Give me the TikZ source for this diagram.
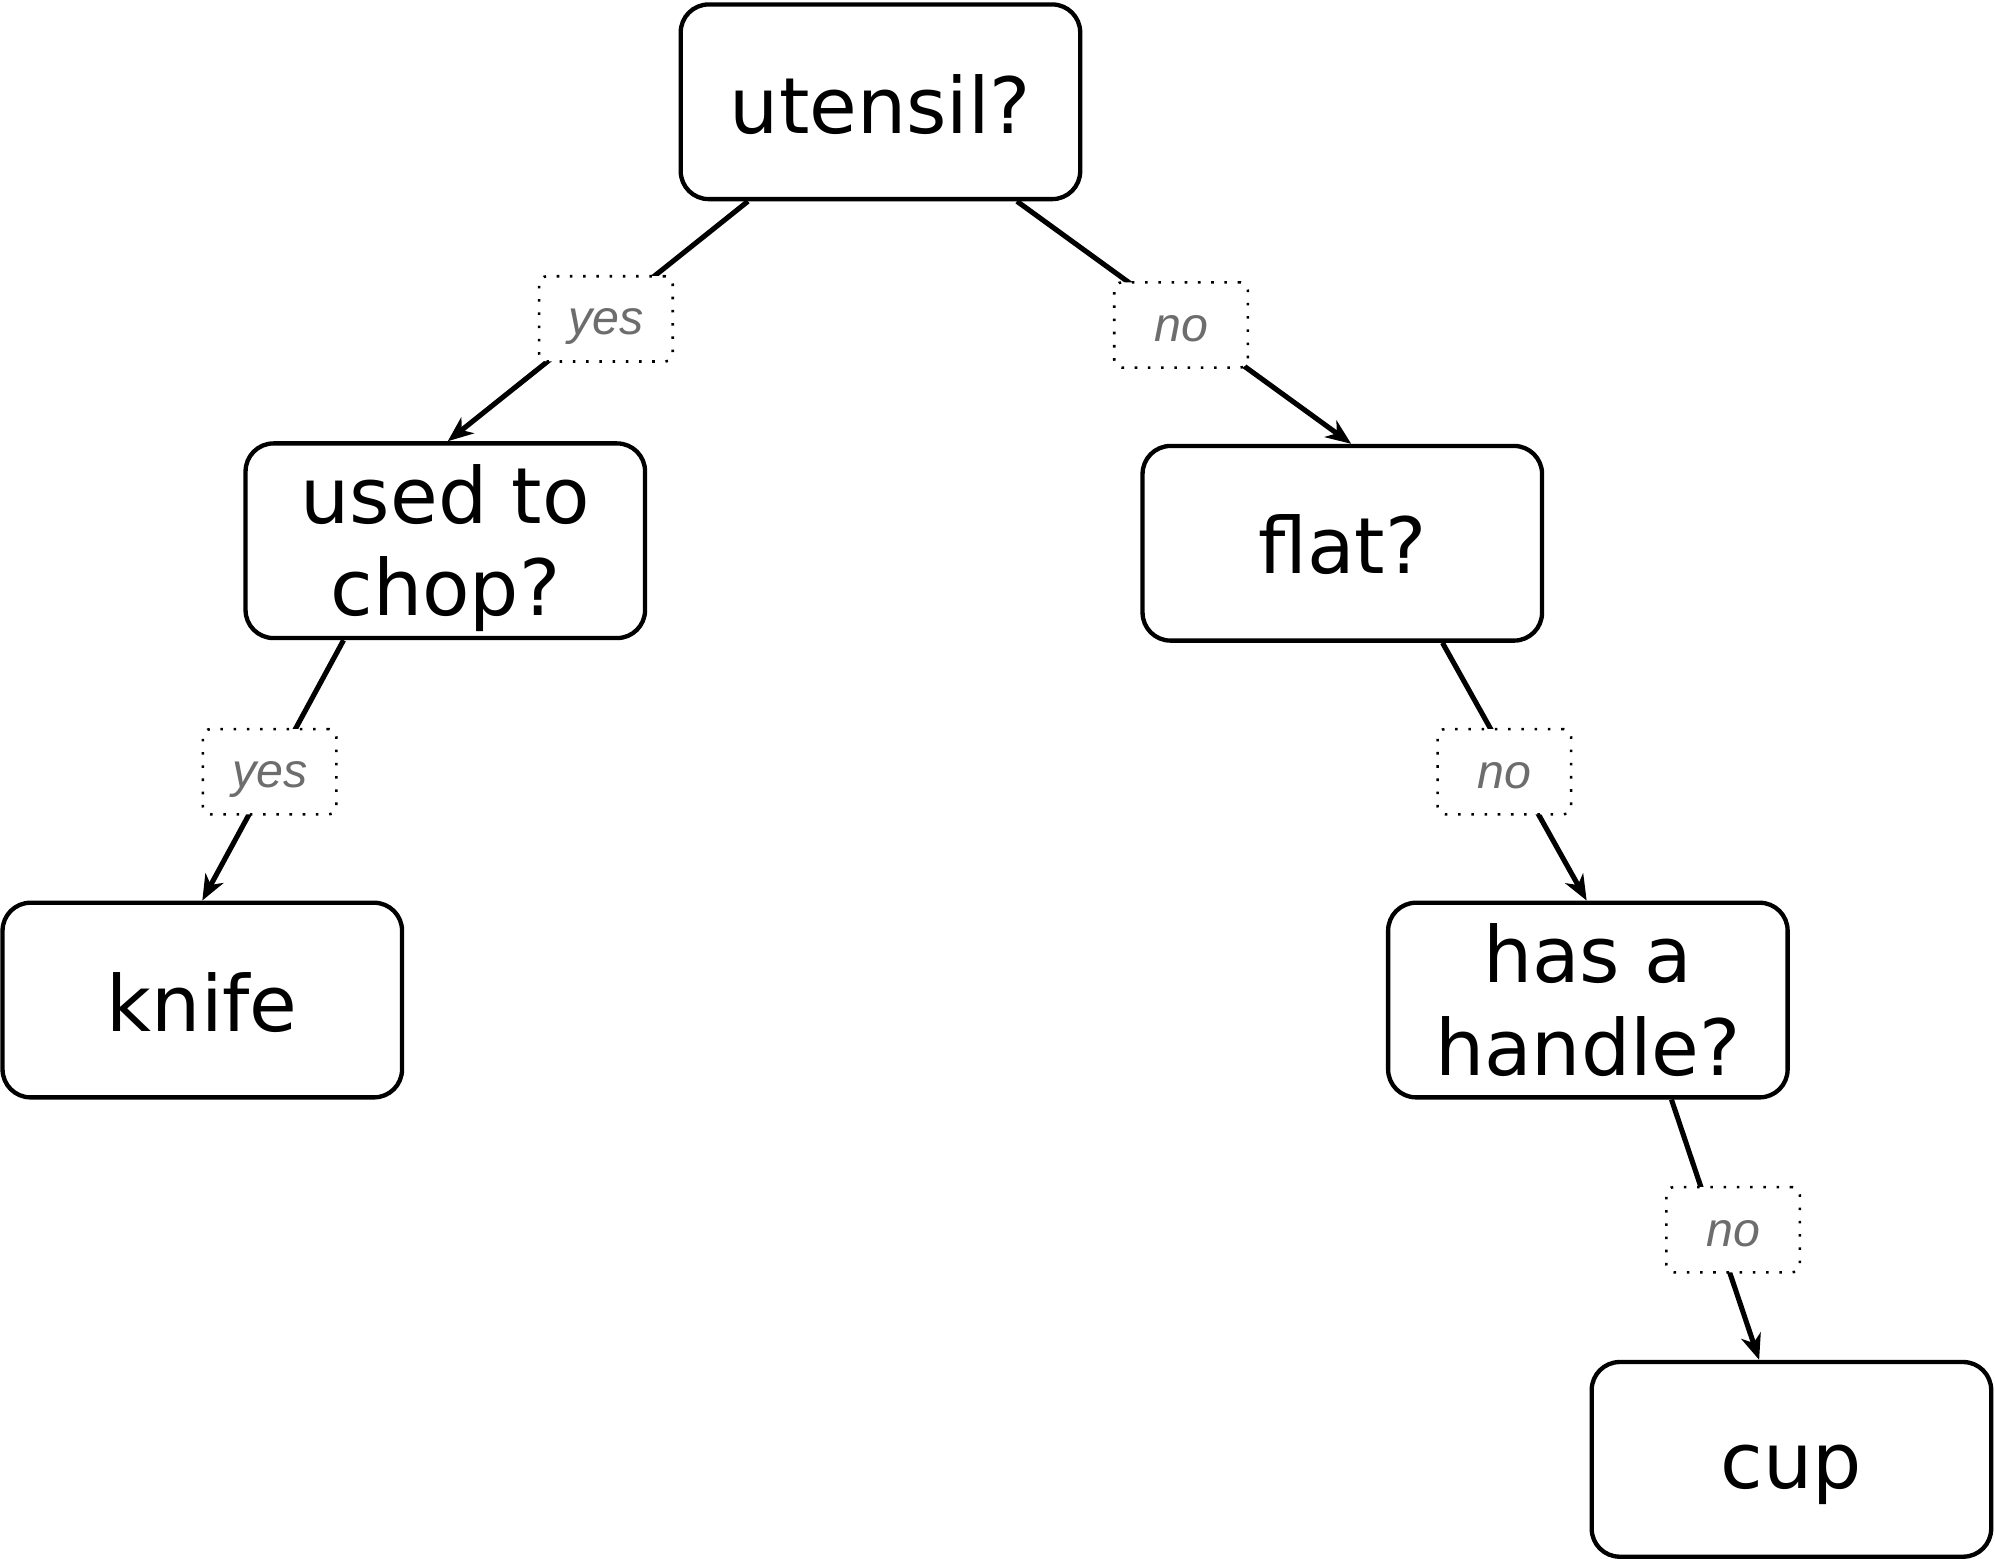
\documentclass[tikz,border=0pt]{standalone}
\usepackage{fontspec}
\setmainfont{DejaVu Sans}
\newfontfamily\labfont{Liberation Sans}
\usetikzlibrary{calc,arrows.meta}
\definecolor{labgray}{HTML}{6D6D6D}
\newcommand{\dn}[2]{\raisebox{-#1}[\height][\depth]{#2}}
\newcommand{\twolines}[2]{\begin{tabular}{@{}c@{}}#1\\#2\end{tabular}}
\tikzset{
  qbox/.style={draw=black, line width=3.4pt, rounded corners=22pt, fill=white,
    minimum width=314pt, minimum height=153pt, inner sep=0pt, align=center,
    font=\fontsize{61}{73}\selectfont},
  lab/.style={draw=black, line width=2pt, dash pattern=on 2pt off 8.4pt,
    rounded corners=6pt, fill=white, minimum width=105pt, minimum height=67pt,
    inner sep=0pt, text=labgray, font=\labfont\itshape\fontsize{38}{40}\selectfont},
  edge/.style={draw=black, line width=4pt,
    -{Stealth[length=20pt,width=16pt,inset=6pt]}}
}
\begin{document}
\begin{tikzpicture}[x=1pt,y=-1pt]
\useasboundingbox (0,0) rectangle (1568,1225.3);
\node[qbox] (ut) at (692,80) {\dn{2pt}{utensil?}};
\node[qbox] (ch) at (350,425) {\dn{8pt}{\twolines{used to}{chop?}}};
\node[qbox] (fl) at (1055,427) {\dn{1pt}{flat?}};
\node[qbox] (kn) at (159,786) {\dn{2pt}{knife}};
\node[qbox] (ha) at (1248,786) {\dn{8pt}{\twolines{has a}{handle?}}};
\node[qbox] (cu) at (1408,1147) {\dn{12pt}{cup}};
% start and end points on box borders
\coordinate (s1) at ($(ut.south west)!0.172!(ut.south east)$);
\coordinate (s2) at ($(ut.south west)!0.838!(ut.south east)$);
\coordinate (s3) at ($(ch.south west)!0.248!(ch.south east)$);
\coordinate (s4) at ($(fl.south west)!0.748!(fl.south east)$);
\coordinate (s5) at ($(ha.south west)!0.707!(ha.south east)$);
\coordinate (e1) at ($(ch.north west)!0.506!(ch.north east)$);
\coordinate (e2) at ($(fl.north west)!0.522!(fl.north east)$);
\coordinate (e3) at ($(kn.north west)!0.5!(kn.north east)$);
\coordinate (e4) at ($(ha.north west)!0.497!(ha.north east)$);
\coordinate (e5) at ($(cu.north west)!0.42!(cu.north east)$);
\draw[edge] (s1) -- node[lab, pos=0.49, xshift=4pt] (l1) {\dn{6pt}{yes}} (e1);
\draw[edge] (s2) -- node[lab, pos=0.51, xshift=-5pt] (l2) {\dn{3pt}{no}} (e2);
\draw[edge] (s3) -- node[lab, pos=0.505, xshift=-2pt] (l3) {\dn{6pt}{yes}} (e3);
\draw[edge] (s4) -- node[lab, pos=0.5, xshift=-8pt] (l4) {\dn{3pt}{no}} (e4);
\draw[edge] (s5) -- node[lab, pos=0.5, xshift=14pt] (l5) {\dn{3pt}{no}} (e5);
\end{tikzpicture}
\end{document}
